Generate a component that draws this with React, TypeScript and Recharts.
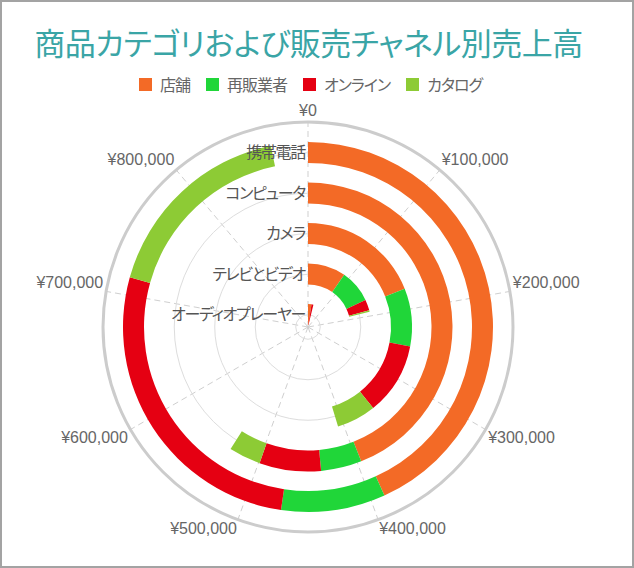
import React from 'react';
import { RadialBarChart, RadialBar, PolarAngleAxis, PolarRadiusAxis, PolarGrid } from 'recharts';

const categories = ['オーディオプレーヤー', 'テレビとビデオ', 'カメラ', 'コンピュータ', '携帯電話'];
const store = [22000, 87000, 171000, 396000, 389000];
const reseller = [0, 75000, 81000, 41000, 82000];
const online = [12000, 25000, 101000, 62000, 243000];
const catalog = [0, 3000, 55000, 32000, 157000];
const angleTicks = [0, 100000, 200000, 300000, 400000, 500000, 600000, 700000, 800000];
const seriesNames = ['店舗', '再販業者', 'オンライン', 'カタログ'];
const seriesKeys = ['store', 'reseller', 'online', 'catalog'];
const seriesColors = ['#F36A26', '#20D639', '#E50012', '#8DCB35'];
const title = '商品カテゴリおよび販売チャネル別売上高';

const data = categories.map((name, i) => ({
  name,
  store: store[i],
  reseller: reseller[i],
  online: online[i],
  catalog: catalog[i],
}));

const W = 634;
const H = 568;
const CX = 308;
const CY = 327;
const JP = "'Noto Sans CJK JP', 'Noto Sans', sans-serif";
const LAT = "'Liberation Sans', Arial, sans-serif";

const fmt = (v: number) => '¥' + v.toLocaleString('en-US');

function AngleTick(props: any) {
  const { x, y, payload } = props;
  const dx = x - CX;
  const dy = y - CY;
  const anchor = Math.abs(dx) < 1 ? 'middle' : dx > 0 ? 'start' : 'end';
  const off = dy < 0 ? -3 : 11.5;
  return (
    <text x={x} y={y + off} textAnchor={anchor} fill="#666" fontSize={16} fontFamily={LAT}>
      {fmt(payload.value)}
    </text>
  );
}

function CatTick(props: any) {
  const { x, y, payload } = props;
  return (
    <text
      x={x - 3}
      y={y}
      dy="0.35em"
      textAnchor="end"
      fill="#555"
      fontSize={16}
      fontFamily={JP}
      letterSpacing={-1.3}
      style={{ fontFeatureSettings: '"palt"' }}
    >
      {payload.value}
    </text>
  );
}

const margin = { top: 0, right: 0, bottom: 0, left: 0 };

export default function App() {
  return (
    <div
      style={{
        position: 'relative',
        width: W,
        height: H,
        boxSizing: 'border-box',
        border: '2px solid #a3a3a3',
        background: '#fff',
        overflow: 'hidden',
      }}
    >
      <style>{`body{margin:0}`}</style>
      <div
        style={{
          position: 'absolute',
          left: -2,
          top: 23,
          width: 617,
          textAlign: 'center',
          fontFamily: JP,
          fontSize: 31,
          lineHeight: '33px',
          letterSpacing: -0.5,
          color: '#3AA5A6',
          fontFeatureSettings: '"palt"',
          whiteSpace: 'nowrap',
        }}
      >
        {title}
      </div>
      <div
        style={{
          position: 'absolute',
          left: 137,
          top: 73,
          display: 'flex',
          alignItems: 'center',
          fontFamily: JP,
          fontSize: 16,
          lineHeight: '18px',
          letterSpacing: -1,
          color: '#666',
          fontFeatureSettings: '"palt"',
          whiteSpace: 'nowrap',
        }}
      >
        {seriesNames.map((n, i) => (
          <div key={n} style={{ display: 'flex', alignItems: 'center', marginRight: 16 }}>
            <span style={{ width: 13, height: 13, background: seriesColors[i], marginRight: 8, display: 'inline-block' }} />
            <span>{n}</span>
          </div>
        ))}
      </div>
      <div style={{ position: 'absolute', left: -2, top: -2 }}>
        <RadialBarChart
          width={W}
          height={H}
          data={data}
          cx={CX}
          cy={CY}
          innerRadius={0}
          outerRadius={205}
          startAngle={90}
          endAngle={-270}
          margin={margin}
        >
          <PolarGrid gridType="circle" polarRadius={[]} stroke="#cfcfcf" strokeDasharray="6 4" />
          <PolarAngleAxis
            type="number"
            domain={[0, 900000]}
            ticks={angleTicks}
            axisLineType="circle"
            axisLine={{ stroke: '#cccccc', strokeWidth: 3 }}
            tickLine={false}
            tickSize={3}
            tick={<AngleTick />}
          />
          <PolarRadiusAxis type="category" dataKey="name" tick={false} axisLine={false} tickLine={false} />
          {seriesKeys.map((k) => (
            <RadialBar
              key={k}
              dataKey={k}
              stackId="a"
              fill="transparent"
              fillOpacity={0}
              isAnimationActive={false}
            />
          ))}
        </RadialBarChart>
      </div>
      <div style={{ position: 'absolute', left: -2, top: -2 }}>
        <RadialBarChart
          width={W}
          height={H}
          data={data}
          cx={CX}
          cy={CY}
          innerRadius={-8}
          outerRadius={194.5}
          startAngle={90}
          endAngle={-270}
          barSize={21}
          margin={margin}
        >
          <PolarGrid gridType="circle" radialLines={false} stroke="#dddddd" />
          <PolarAngleAxis type="number" domain={[0, 900000]} tick={false} axisLine={false} tickLine={false} />
          <PolarRadiusAxis
            type="category"
            dataKey="name"
            angle={90}
            axisLine={false}
            tickLine={false}
            tick={<CatTick />}
          />
          {seriesKeys.map((k, i) => (
            <RadialBar
              key={k}
              dataKey={k}
              name={seriesNames[i]}
              stackId="a"
              fill={seriesColors[i]}
              isAnimationActive={false}
            />
          ))}
        </RadialBarChart>
      </div>
    </div>
  );
}
